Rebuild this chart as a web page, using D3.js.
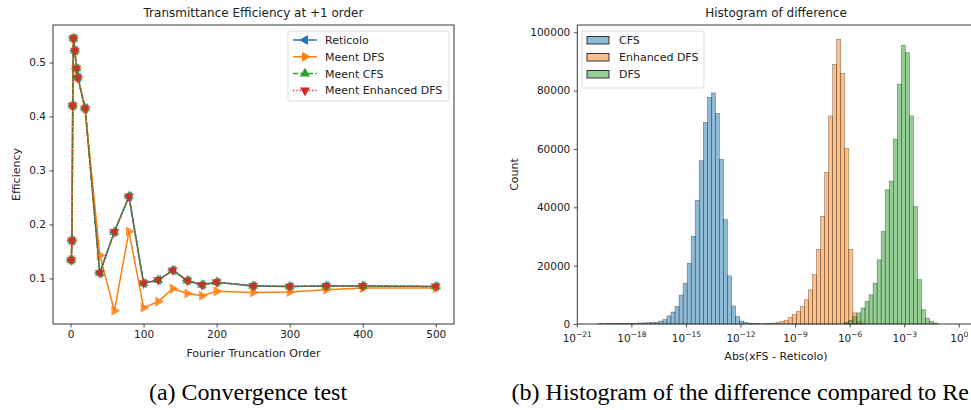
<!DOCTYPE html>
<html>
<head>
<meta charset="utf-8">
<script src="https://cdn.jsdelivr.net/npm/d3@7"></script>
<style>
  html, body { margin: 0; padding: 0; background: #fff; overflow: hidden; }
  svg { display: block; }
  text { font-family: "DejaVu Sans", sans-serif; fill: #222; }
  text.caption { font-family: "Liberation Serif", "Times New Roman", serif; fill: #000; }
</style>
</head>
<body>
<svg id="fig" width="971" height="410"></svg>
<script>
// ---------- Convergence test data ----------
const orders = [1, 2, 3, 4, 6, 8, 10, 20, 40, 60, 80, 100, 120, 140, 160, 180, 200, 250, 300, 350, 400, 500];
const reticolo = [0.134, 0.170, 0.420, 0.545, 0.522, 0.489, 0.472, 0.415, 0.110, 0.186, 0.252, 0.091, 0.097, 0.115, 0.096, 0.088, 0.093, 0.086, 0.085, 0.086, 0.086, 0.085];
const meentDFS = [0.134, 0.170, 0.420, 0.545, 0.522, 0.489, 0.472, 0.415, 0.143, 0.040, 0.187, 0.0455, 0.057, 0.081, 0.072, 0.068, 0.076, 0.074, 0.075, 0.079, 0.082, 0.082];
const meentCFS = [0.134, 0.170, 0.420, 0.545, 0.522, 0.489, 0.472, 0.415, 0.110, 0.186, 0.252, 0.091, 0.097, 0.115, 0.096, 0.088, 0.093, 0.086, 0.085, 0.086, 0.086, 0.085];
const meentEnhancedDFS = [0.134, 0.170, 0.420, 0.545, 0.522, 0.489, 0.472, 0.415, 0.110, 0.186, 0.252, 0.091, 0.097, 0.115, 0.096, 0.088, 0.093, 0.086, 0.085, 0.086, 0.086, 0.085];
const lineNames = ["Reticolo", "Meent DFS", "Meent CFS", "Meent Enhanced DFS"];
const xTicksA = [0, 100, 200, 300, 400, 500];
const yTicksA = [0.1, 0.2, 0.3, 0.4, 0.5];

// ---------- Histogram data (log10 bin edges, common bin width) ----------
const binStart = -19.85;
const binWidth = 0.2222;
const histNames = ["CFS", "Enhanced DFS", "DFS"];
// counts per bin, starting at the given bin number
const cfsFirstBin = 0;
const cfsCounts = [150, 100, 120, 150, 150, 200, 200, 250, 250, 300, 350, 400, 450, 500, 600, 1000, 1500, 2800, 4100, 6000, 9900, 14000, 20800, 30100, 42400, 56000, 69100, 77700, 79200, 72200, 56400, 35800, 16500, 6200, 2600, 1000, 500, 300, 200, 150];
const enhFirstBin = 40;
const enhCounts = [100, 150, 200, 300, 500, 800, 1300, 2200, 3200, 4300, 6000, 8300, 11700, 16900, 25500, 36900, 52000, 71300, 89000, 97600, 85800, 60200, 25500, 3800, 900, 300];
const dfsFirstBin = 61;
const dfsCounts = [600, 1200, 2500, 3800, 5500, 7800, 10000, 14000, 22000, 31700, 46000, 49000, 63400, 82200, 95500, 93000, 71300, 40300, 15200, 4900, 2000, 900, 300];
const xTicksB = [-21, -18, -15, -12, -9, -6, -3, 0];
const yTicksB = [0, 20000, 40000, 60000, 80000, 100000];

const colors = ["#1f77b4", "#ff7f0e", "#2ca02c", "#d62728"];

const svg = d3.select("#fig");

// ================= Panel (a): line chart =================
const A = { left: 53, right: 454, top: 25, bottom: 324 };
const xA = d3.scaleLinear().domain([-24, 525]).range([A.left, A.right]);
const yA = d3.scaleLinear().domain([0.0155, 0.5695]).range([A.bottom, A.top]);

const gA = svg.append("g");
gA.append("text").attr("x", (A.left + A.right) / 2).attr("y", 17)
  .attr("text-anchor", "middle").attr("font-size", 12).text("Transmittance Efficiency at +1 order");

const axA = gA.append("g").attr("transform", `translate(0,${A.bottom})`)
  .call(d3.axisBottom(xA).tickValues(xTicksA).tickSize(3.5).tickPadding(3.5));
const ayA = gA.append("g").attr("transform", `translate(${A.left},0)`)
  .call(d3.axisLeft(yA).tickValues(yTicksA).tickFormat(d3.format(".1f")).tickSize(3.5).tickPadding(3.5));
[axA, ayA].forEach(a => {
  a.select(".domain").remove();
  a.selectAll("text").attr("font-size", 10.5).attr("font-family", "DejaVu Sans").attr("fill", "#222");
  a.selectAll("line").attr("stroke", "#222").attr("stroke-width", 0.8);
});
gA.append("rect").attr("x", A.left).attr("y", A.top).attr("width", A.right - A.left).attr("height", A.bottom - A.top)
  .attr("fill", "none").attr("stroke", "#222").attr("stroke-width", 0.9);
gA.append("text").attr("x", (A.left + A.right) / 2).attr("y", 357).attr("text-anchor", "middle")
  .attr("font-size", 11).text("Fourier Truncation Order");
gA.append("text").attr("transform", `translate(20,${(A.top + A.bottom) / 2}) rotate(-90)`)
  .attr("text-anchor", "middle").attr("font-size", 11).text("Efficiency");

const seriesA = [reticolo, meentDFS, meentCFS, meentEnhancedDFS];
const dashes = [null, null, "5,2.5", "1.2,2"];
const markerRot = [-90, 90, 0, 180]; // '<', '>', '^', 'v'
const tri = d3.symbol().type(d3.symbolTriangle).size(44);
const line = d3.line().x(d => xA(d[0])).y(d => yA(d[1]));

seriesA.forEach((vals, i) => {
  const pts = orders.map((o, j) => [o, vals[j]]);
  gA.append("path").datum(pts).attr("d", line).attr("fill", "none")
    .attr("stroke", colors[i]).attr("stroke-width", 1.5)
    .attr("stroke-dasharray", dashes[i]);
  gA.append("g").selectAll("path").data(pts).join("path")
    .attr("d", tri)
    .attr("transform", d => `translate(${xA(d[0])},${yA(d[1])}) rotate(${markerRot[i]})`)
    .attr("fill", colors[i]).attr("fill-opacity", 0.85);
});

// legend (a)
const legA = gA.append("g");
legA.append("rect").attr("x", 288).attr("y", 31).attr("width", 161).attr("height", 70)
  .attr("rx", 2).attr("fill", "#fff").attr("fill-opacity", 0.8).attr("stroke", "#ddd");
lineNames.forEach((name, i) => {
  const y = 40 + i * 16.8;
  legA.append("line").attr("x1", 293).attr("x2", 317).attr("y1", y).attr("y2", y)
    .attr("stroke", colors[i]).attr("stroke-width", 1.5).attr("stroke-dasharray", dashes[i]);
  legA.append("path").attr("d", tri).attr("transform", `translate(305,${y}) rotate(${markerRot[i]})`)
    .attr("fill", colors[i]);
  legA.append("text").attr("x", 325).attr("y", y + 4).attr("font-size", 11).text(name);
});

// ================= Panel (b): histogram =================
const B = { left: 577.3, right: 959.3, top: 25, bottom: 324 };
const xB = d3.scaleLinear().domain([-21, 0]).range([B.left, B.right]);  // log10 axis
const yB = d3.scaleLinear().domain([0, 102480]).range([B.bottom, B.top]);

const gB = svg.append("g");
gB.append("text").attr("x", 776).attr("y", 17).attr("text-anchor", "middle")
  .attr("font-size", 12).text("Histogram of difference");

const histData = [
  { name: histNames[0], first: cfsFirstBin, counts: cfsCounts, color: colors[0] },
  { name: histNames[1], first: enhFirstBin, counts: enhCounts, color: colors[1] },
  { name: histNames[2], first: dfsFirstBin, counts: dfsCounts, color: colors[2] }
];
histData.forEach(s => {
  const bins = s.counts.map((c, j) => {
    const lo = binStart + (s.first + j) * binWidth;
    return { lo, hi: lo + binWidth, c };
  });
  gB.append("g").selectAll("rect").data(bins).join("rect")
    .attr("x", d => xB(d.lo)).attr("width", d => xB(d.hi) - xB(d.lo))
    .attr("y", d => yB(d.c)).attr("height", d => yB(0) - yB(d.c))
    .attr("fill", s.color).attr("fill-opacity", 0.5)
    .attr("stroke", "#000").attr("stroke-opacity", 0.45).attr("stroke-width", 0.6);
});

const ayB = gB.append("g").attr("transform", `translate(${B.left},0)`)
  .call(d3.axisLeft(yB).tickValues(yTicksB).tickFormat(d3.format("d")).tickSize(3.5).tickPadding(3.5));
ayB.select(".domain").remove();
ayB.selectAll("text").attr("font-size", 10.5).attr("font-family", "DejaVu Sans").attr("fill", "#222");
ayB.selectAll("line").attr("stroke", "#222").attr("stroke-width", 0.8);

// log x axis with superscript labels
const axB = gB.append("g").attr("transform", `translate(0,${B.bottom})`);
xTicksB.forEach(t => {
  const x = xB(t);
  axB.append("line").attr("x1", x).attr("x2", x).attr("y1", 0).attr("y2", 3.5)
    .attr("stroke", "#222").attr("stroke-width", 0.8);
  const tx = axB.append("text").attr("x", x).attr("y", 18).attr("text-anchor", "middle").attr("font-size", 10.5);
  tx.append("tspan").text("10");
  tx.append("tspan").attr("dy", -5).attr("font-size", 7.5).text(t === 0 ? "0" : "\u2212" + Math.abs(t));
});
// frame
gB.append("line").attr("x1", B.left).attr("x2", 990).attr("y1", B.top).attr("y2", B.top).attr("stroke", "#222").attr("stroke-width", 0.9);
gB.append("line").attr("x1", B.left).attr("x2", 990).attr("y1", B.bottom).attr("y2", B.bottom).attr("stroke", "#222").attr("stroke-width", 0.9);
gB.append("line").attr("x1", B.left).attr("x2", B.left).attr("y1", B.top).attr("y2", B.bottom).attr("stroke", "#222").attr("stroke-width", 0.9);

gB.append("text").attr("x", 776).attr("y", 360).attr("text-anchor", "middle")
  .attr("font-size", 11).text("Abs(xFS - Reticolo)");
gB.append("text").attr("transform", `translate(518,${(B.top + B.bottom) / 2}) rotate(-90)`)
  .attr("text-anchor", "middle").attr("font-size", 11).text("Count");

// legend (b)
const legB = gB.append("g");
legB.append("rect").attr("x", 582).attr("y", 31).attr("width", 122).attr("height", 57)
  .attr("rx", 2).attr("fill", "#fff").attr("fill-opacity", 0.8).attr("stroke", "#ddd");
histData.forEach((s, i) => {
  const y = 40 + i * 17;
  legB.append("rect").attr("x", 587).attr("y", y - 3.5).attr("width", 22).attr("height", 7.5)
    .attr("fill", s.color).attr("fill-opacity", 0.5).attr("stroke", "#222").attr("stroke-width", 0.9);
  legB.append("text").attr("x", 619).attr("y", y + 4).attr("font-size", 11).text(s.name);
});

// ================= Captions =================
svg.append("text").attr("class", "caption").attr("x", 248).attr("y", 400).attr("text-anchor", "middle")
  .attr("font-size", 24).text("(a) Convergence test");
svg.append("text").attr("class", "caption").attr("x", 969).attr("y", 400).attr("text-anchor", "end")
  .attr("font-size", 24).text("(b) Histogram of the difference compared to Re");
</script>
</body>
</html>
